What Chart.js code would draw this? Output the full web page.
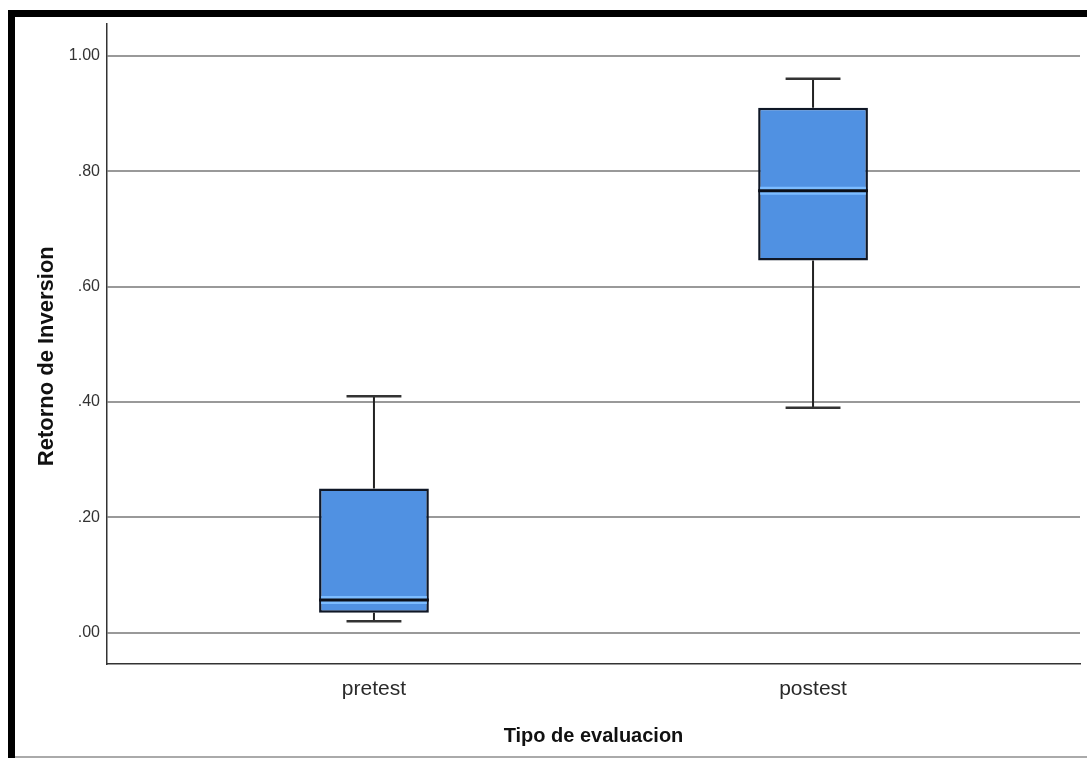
<!DOCTYPE html>
<html>
<head>
<meta charset="utf-8">
<script src="https://cdn.jsdelivr.net/npm/chart.js@4.4.1/dist/chart.umd.min.js"></script>
<style>
    body { margin: 0; background: #fff; }
    #wrap { position: absolute; left: 0; top: 0; width: 1087px; height: 758px; }
    .frameTop { position: absolute; left: 8px; top: 10px; width: 1079px; height: 7px; background: #000; }
    .frameLeft { position: absolute; left: 8px; top: 10px; width: 7px; height: 748px; background: #000; }
    .frameBottom { position: absolute; left: 15px; top: 756px; width: 1072px; height: 2px; background: #aaa; }
</style>
</head>
<body>
<div id="wrap">
    <canvas id="boxChart" width="1087" height="758"></canvas>
    <div class="frameTop"></div>
    <div class="frameLeft"></div>
    <div class="frameBottom"></div>
</div>
<script>
// Boxplot values
const categories = ['pretest', 'postest'];
const minVals = [0.02, 0.39];
const q1Vals = [0.035, 0.645];
const medianVals = [0.057, 0.766];
const q3Vals = [0.25, 0.91];
const maxVals = [0.41, 0.96];
const yTicks = [0, 0.2, 0.4, 0.6, 0.8, 1.0];

function formatTick(v) {
    // SPSS style: .80, 1.00, .00
    let s = v.toFixed(2);
    if (s.startsWith('0')) s = s.substring(1);
    return s;
}

// whiskers, caps and median drawn over the boxes
const boxExtras = {
    id: 'boxExtras',
    afterDatasetsDraw(chart) {
        const ctx = chart.ctx;
        const xs = chart.scales.x;
        const ys = chart.scales.y;
        const meta = chart.getDatasetMeta(0);

        categories.forEach((c, i) => {
            const bar = meta.data[i];
            const cx = xs.getPixelForValue(i);
            const half = bar.width / 2;
            const yMin = ys.getPixelForValue(minVals[i]);
            const yQ1 = ys.getPixelForValue(q1Vals[i]);
            const yMed = ys.getPixelForValue(medianVals[i]);
            const yQ3 = ys.getPixelForValue(q3Vals[i]);
            const yMax = ys.getPixelForValue(maxVals[i]);

            ctx.save();
            ctx.strokeStyle = '#222';
            ctx.lineWidth = 2;
            ctx.beginPath();
            ctx.moveTo(cx, yQ3);
            ctx.lineTo(cx, yMax);
            ctx.moveTo(cx, yQ1);
            ctx.lineTo(cx, yMin);
            ctx.stroke();

            ctx.strokeStyle = '#333';
            ctx.lineWidth = 2.5;
            ctx.beginPath();
            ctx.moveTo(cx - half / 2, yMax);
            ctx.lineTo(cx + half / 2, yMax);
            ctx.moveTo(cx - half / 2, yMin);
            ctx.lineTo(cx + half / 2, yMin);
            ctx.stroke();

            // light band around the median
            ctx.strokeStyle = '#7cbcff';
            ctx.lineWidth = 8;
            ctx.beginPath();
            ctx.moveTo(cx - half + 2, yMed);
            ctx.lineTo(cx + half - 2, yMed);
            ctx.stroke();

            ctx.strokeStyle = '#0b0f18';
            ctx.lineWidth = 3;
            ctx.beginPath();
            ctx.moveTo(cx - half, yMed);
            ctx.lineTo(cx + half, yMed);
            ctx.stroke();
            ctx.restore();
        });
    }
};

const boxData = categories.map((c, i) => ({ x: i, y: [q1Vals[i], q3Vals[i]] }));

new Chart(document.getElementById('boxChart'), {
    type: 'bar',
    data: {
        datasets: [{
            label: 'Retorno de Inversion',
            data: boxData,
            backgroundColor: '#5091e2',
            borderColor: '#0f1726',
            borderWidth: 2.5,
            borderSkipped: false,
            barPercentage: 0.25,
            categoryPercentage: 1
        }]
    },
    options: {
        responsive: false,
        animation: false,
        layout: { padding: { top: 24, right: 7, left: 0, bottom: 0 } },
        plugins: {
            legend: { display: false },
            tooltip: { enabled: false }
        },
        scales: {
            x: {
                type: 'linear',
                offset: false,
                min: -0.608,
                max: 1.608,
                afterBuildTicks: scale => { scale.ticks = categories.map((c, i) => ({ value: i })); },
                afterFit: scale => { scale.height = 94; },
                grid: { drawOnChartArea: false, drawTicks: false, offset: false },
                border: { display: true, color: '#333', width: 1.5 },
                ticks: {
                    callback: v => categories[v],
                    color: '#2a2a2a',
                    padding: 13,
                    font: { family: 'Liberation Sans', size: 21 }
                },
                title: {
                    display: true,
                    text: 'Tipo de evaluacion',
                    color: '#111',
                    padding: { top: 0, bottom: 10 },
                    font: { family: 'Liberation Sans', size: 20, weight: 'bold' }
                }
            },
            y: {
                min: -0.054,
                max: 1.055,
                afterBuildTicks: scale => { scale.ticks = yTicks.map(v => ({ value: v })); },
                afterFit: scale => { scale.width = 107; },
                grid: { color: '#999', lineWidth: 2, drawTicks: false },
                border: { display: true, color: '#333', width: 1.5 },
                ticks: {
                    callback: v => formatTick(v),
                    color: '#333',
                    padding: 7,
                    font: { family: "'Liberation Sans Narrow', 'Liberation Sans'", size: 16 }
                },
                title: {
                    display: true,
                    text: 'Retorno de Inversion    ',
                    color: '#111',
                    padding: { top: 34, bottom: 0 },
                    font: { family: 'Liberation Sans', size: 22, weight: 'bold' }
                }
            }
        }
    },
    plugins: [boxExtras]
});
</script>
</body>
</html>
